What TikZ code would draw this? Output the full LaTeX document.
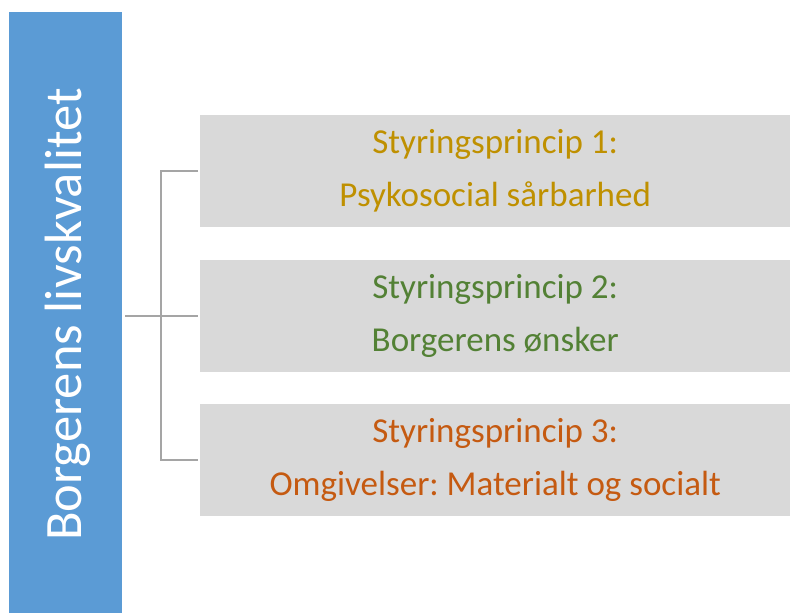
\documentclass[tikz,border=0pt]{standalone}
\usepackage{fontspec}
\setmainfont{Carlito}
\frenchspacing
\definecolor{barblue}{HTML}{5B9BD5}
\definecolor{boxgray}{HTML}{D9D9D9}
\definecolor{linegray}{HTML}{A5A5A5}
\definecolor{goldtxt}{HTML}{BF9000}
\definecolor{greentxt}{HTML}{538135}
\definecolor{orangetxt}{HTML}{C55A11}
\begin{document}
\begin{tikzpicture}[x=1pt,y=-1pt,
  principle/.style={fill=boxgray,draw=none,minimum width=590pt,minimum height=112pt,
    anchor=north west,align=center,inner sep=0pt,font=\fontsize{35}{53}\selectfont},
  link/.style={draw=linegray,line width=2.2pt}]
  \useasboundingbox (0,0) rectangle (790,613);
  % title bar
  \node[fill=barblue,minimum width=113pt,minimum height=601pt,anchor=north west,inner sep=0pt]
    (bar) at (9,12) {};
  \node[rotate=90,text=white,font=\fontsize{52.5}{60}\selectfont] (title) at ([xshift=2pt,yshift=-2pt]bar.center) {Borgerens livskvalitet};
  % principle boxes
  \node[principle,text=goldtxt] (p1) at (200,115) {Styringsprincip 1:\\Psykosocial sårbarhed};
  \node[principle,text=greentxt] (p2) at (200,260) {Styringsprincip 2:\\Borgerens ønsker};
  \node[principle,text=orangetxt] (p3) at (200,404) {Styringsprincip 3:\\Omgivelser: Materialt og socialt};
  % bracket connectors
  \coordinate (fork) at (161,0);
  \draw[link] ([xshift=3pt]bar.east |- p2.west) -- ([xshift=-2pt]p2.west);
  \draw[link] ([xshift=-2pt]p1.west) -| (fork |- p1.west) -- (fork |- p3.west) -- ([xshift=-2pt]p3.west);
\end{tikzpicture}
\end{document}
